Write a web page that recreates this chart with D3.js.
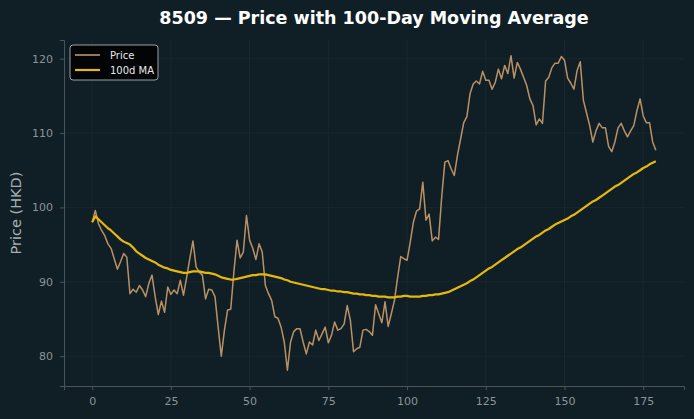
<!DOCTYPE html>
<html>
<head>
<meta charset="utf-8">
<script src="https://cdn.jsdelivr.net/npm/d3@7"></script>
<style>
  html, body { margin: 0; padding: 0; background: #101f26; }
  svg { display: block; font-family: "DejaVu Sans", sans-serif; }
</style>
</head>
<body>
<svg id="chart" width="694" height="419"></svg>
<script>
// price readings, day 0..179
const price = [
  98.0, 99.6, 97.8, 96.9, 96.2, 95.1, 94.5, 93.1, 91.7, 92.7,
  93.8, 93.3, 88.4, 89.0, 88.6, 89.5, 88.9, 88.0, 89.8, 90.9,
  88.0, 85.6, 87.4, 85.9, 89.3, 88.3, 88.9, 88.4, 90.2, 88.2,
  90.6, 93.1, 95.5, 92.0, 91.3, 90.9, 87.7, 89.0, 88.9, 88.0,
  83.9, 80.0, 83.5, 86.2, 86.3, 91.3, 95.6, 93.2, 94.0, 98.9,
  95.6, 94.5, 93.0, 95.1, 94.0, 89.5, 88.4, 87.5, 85.3, 85.1,
  83.9, 81.9, 78.1, 81.9, 83.3, 83.7, 83.7, 81.9, 80.3, 81.9,
  81.5, 83.5, 82.1, 83.0, 83.9, 81.8, 82.8, 84.6, 83.5, 83.7,
  84.3, 86.8, 84.8, 80.6, 81.0, 81.2, 83.5, 83.6, 83.3, 82.8,
  86.9, 85.7, 84.5, 87.3, 84.0, 85.7, 87.5, 90.6, 93.4, 93.1,
  92.9, 95.3, 98.0, 99.5, 99.8, 103.4, 98.3, 99.1, 95.5, 96.0,
  95.7, 101.4, 106.1, 106.3, 105.2, 104.3, 107.0, 109.2, 111.4, 112.2,
  115.3, 116.6, 117.0, 116.6, 118.3, 117.1, 117.1, 115.9, 116.8, 118.6,
  117.3, 119.1, 118.0, 120.4, 117.4, 119.5, 118.6, 117.5, 116.4, 114.6,
  113.7, 111.1, 111.9, 111.3, 117.0, 117.5, 118.8, 119.4, 119.4, 120.3,
  119.8, 117.4, 116.7, 115.9, 118.4, 119.6, 114.4, 112.7, 111.0, 108.8,
  110.3, 111.3, 110.7, 110.7, 108.2, 107.5, 108.8, 110.7, 111.3, 110.3,
  109.5, 110.3, 111.0, 113.0, 114.6, 112.3, 111.4, 111.4, 108.8, 107.7
];

// 100-day moving average
const ma100 = [
  98.0, 98.8, 98.4, 98.0, 97.6, 97.2, 96.9, 96.5, 96.1, 95.7,
  95.4, 95.2, 95.0, 94.6, 94.1, 93.8, 93.5, 93.2, 93.0, 92.8,
  92.6, 92.3, 92.1, 91.9, 91.8, 91.6, 91.5, 91.4, 91.3, 91.2,
  91.2, 91.3, 91.4, 91.4, 91.4, 91.3, 91.2, 91.2, 91.1, 91.0,
  90.8, 90.6, 90.5, 90.4, 90.3, 90.3, 90.4, 90.5, 90.6, 90.7,
  90.8, 90.9, 90.9, 91.0, 91.0, 91.0, 90.9, 90.8, 90.7, 90.6,
  90.5, 90.3, 90.2, 90.0, 89.9, 89.8, 89.7, 89.6, 89.5, 89.4,
  89.3, 89.2, 89.1, 89.0, 89.0, 88.9, 88.8, 88.8, 88.7, 88.7,
  88.6, 88.6, 88.5, 88.4, 88.4, 88.3, 88.3, 88.2, 88.2, 88.1,
  88.1, 88.0, 88.0, 88.0, 87.9, 87.9, 87.9, 88.0, 88.0, 88.1,
  88.1, 88.0, 88.0, 88.0, 88.0, 88.1, 88.1, 88.2, 88.2, 88.3,
  88.3, 88.4, 88.5, 88.6, 88.8, 89.0, 89.2, 89.4, 89.6, 89.8,
  90.1, 90.3, 90.6, 90.9, 91.2, 91.5, 91.8, 92.0, 92.3, 92.6,
  92.9, 93.2, 93.5, 93.8, 94.1, 94.4, 94.6, 94.9, 95.2, 95.5,
  95.8, 96.1, 96.3, 96.6, 96.9, 97.1, 97.4, 97.7, 97.9, 98.1,
  98.3, 98.5, 98.8, 99.0, 99.3, 99.6, 99.9, 100.2, 100.5, 100.8,
  101.0, 101.3, 101.6, 101.9, 102.2, 102.5, 102.8, 103.0, 103.3, 103.6,
  103.9, 104.2, 104.5, 104.7, 105.0, 105.3, 105.5, 105.8, 106.0, 106.2
];

const xTicks = [0, 25, 50, 75, 100, 125, 150, 175];
const yTicks = [80, 90, 100, 110, 120];
const seriesNames = ["Price", "100d MA"];

const svg = d3.select("#chart");
const margin = {top: 40, right: 10, bottom: 33, left: 64};
const width = 694 - margin.left - margin.right;
const height = 419 - margin.top - margin.bottom;

const days = d3.range(price.length);
// matplotlib-style 5% padding
const xPad = (days.length - 1) * 0.05;
const allVals = price.concat(ma100);
const yMin = d3.min(allVals), yMax = d3.max(allVals);
const yPad = (yMax - yMin) * 0.05;

const x = d3.scaleLinear().domain([-xPad, days.length - 1 + xPad]).range([0, width]);
const y = d3.scaleLinear().domain([yMin - yPad, yMax + yPad]).range([height, 0]);

const focus = svg.append("g")
    .attr("transform", "translate(" + margin.left + "," + margin.top + ")");

// faint grid
focus.append("g")
    .selectAll("line.gx")
    .data(xTicks)
    .join("line")
    .attr("x1", d => x(d)).attr("x2", d => x(d))
    .attr("y1", 0).attr("y2", height)
    .attr("stroke", "#1b2a31").attr("stroke-width", 0.8);

focus.append("g")
    .selectAll("line.gy")
    .data(yTicks)
    .join("line")
    .attr("x1", 0).attr("x2", width)
    .attr("y1", d => y(d)).attr("y2", d => y(d))
    .attr("stroke", "#1b2a31").attr("stroke-width", 0.8);

// axes
const xAxis = d3.axisBottom(x).tickValues(xTicks).tickSize(4).tickPadding(7);
const yAxis = d3.axisLeft(y).tickValues(yTicks).tickSize(4).tickPadding(7);

const gx = focus.append("g")
    .attr("transform", "translate(0," + height + ")")
    .call(xAxis);
const gy = focus.append("g").call(yAxis);

[gx, gy].forEach(g => {
    g.select(".domain").attr("stroke", "#4a5459").attr("stroke-width", 1);
    g.selectAll(".tick line").attr("stroke", "#4a5459");
    g.selectAll(".tick text")
        .attr("fill", "#8b9498")
        .style("font-size", "11px")
        .style("font-family", "DejaVu Sans, sans-serif");
});

// lines
const line = (arr) => d3.line()
    .x((d, i) => x(i))
    .y(d => y(d))(arr);

focus.append("path")
    .attr("d", line(price))
    .attr("fill", "none")
    .attr("stroke", "#cd9d6d")
    .attr("stroke-opacity", 0.9)
    .attr("stroke-width", 1.5)
    .attr("stroke-linejoin", "round");

focus.append("path")
    .attr("d", line(ma100))
    .attr("fill", "none")
    .attr("stroke", "#e6b80e")
    .attr("stroke-width", 2.2)
    .attr("stroke-linejoin", "round");

// title
svg.append("text")
    .attr("x", 374).attr("y", 24)
    .attr("text-anchor", "middle")
    .attr("fill", "#ffffff")
    .style("font-size", "17.5px")
    .style("font-weight", "bold")
    .text("8509 \u2014 Price with 100-Day Moving Average");

// y label
svg.append("text")
    .attr("transform", "translate(21," + (margin.top + height / 2) + ") rotate(-90)")
    .attr("text-anchor", "middle")
    .attr("fill", "#a9b0b3")
    .style("font-size", "14.5px")
    .text("Price (HKD)");

// legend
const legend = focus.append("g").attr("transform", "translate(6,5)");
legend.append("rect")
    .attr("width", 88).attr("height", 35)
    .attr("rx", 3)
    .attr("fill", "#000000").attr("fill-opacity", 0.85)
    .attr("stroke", "#9aa0a3").attr("stroke-width", 1);

const legendColors = ["#cd9d6d", "#e6b80e"];
const legendWidths = [1.5, 2.2];
seriesNames.forEach((name, i) => {
    const ly = 10 + i * 15;
    legend.append("line")
        .attr("x1", 5).attr("x2", 30)
        .attr("y1", ly).attr("y2", ly)
        .attr("stroke", legendColors[i])
        .attr("stroke-width", legendWidths[i]);
    legend.append("text")
        .attr("x", 40).attr("y", ly + 3.5)
        .attr("fill", "#e8e8e8")
        .style("font-size", "10px")
        .text(name);
});
</script>
</body>
</html>
